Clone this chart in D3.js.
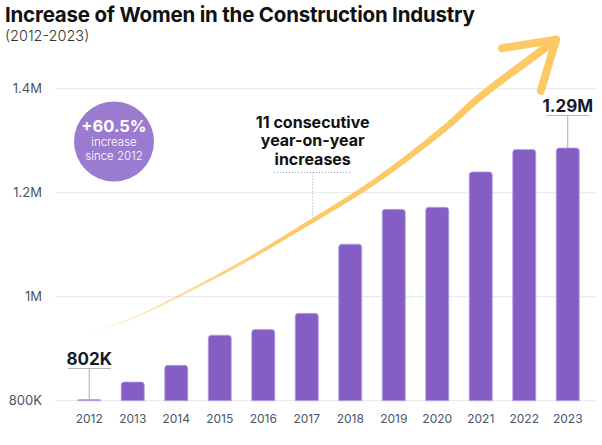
<!DOCTYPE html>
<html>
<head>
<meta charset="utf-8">
<script src="https://cdn.jsdelivr.net/npm/d3@7"></script>
<style>
  html, body { margin: 0; padding: 0; background: #fff; }
  svg { display: block; font-family: Inter, "Noto Sans", sans-serif; }
</style>
</head>
<body>
<svg id="chart" width="602" height="445"></svg>
<script>
// ---- data ----
const years = ["2012","2013","2014","2015","2016","2017","2018","2019","2020","2021","2022","2023"];
const womenK = [802, 836, 868, 926, 937, 968, 1101, 1168, 1172, 1240, 1283, 1286];
const yTicks = [800, 1000, 1200, 1400];
const yTickLabels = ["800K", "1M", "1.2M", "1.4M"];
const titleText = "Increase of Women in the Construction Industry";
const subtitleText = "(2012-2023)";
const badgeLines = ["+60.5%", "increase", "since 2012"];
const noteLines = ["11 consecutive", "year-on-year", "increases"];
const firstLabel = "802K";
const lastLabel = "1.29M";
// trend arrow path in data space: [fractional year offset from 2012, value in K]
const arrowPts = [[0.02,928],[1.17,965],[2.54,1022],[3.69,1074],[4.77,1128],[6.52,1219],[8.13,1321],[8.98,1384],[10.2,1461],[10.73,1494]];
const arrowHead = [[9.49,1478],[10.73,1494],[10.38,1396]];

const svg = d3.select("#chart");

const x = d3.scaleBand().domain(years).range([67.5, 589.5]).paddingInner(0.47).paddingOuter(0.235);
const y = d3.scaleLinear().domain([800, 1400]).range([400.7, 88.7]);
const step = x.step();
const xc = i => x(years[0]) + x.bandwidth() / 2 + i * step;

// title
svg.append("text").attr("x", 5).attr("y", 22).attr("font-size", 20.5).attr("font-weight", 700)
  .attr("fill", "#111").attr("letter-spacing", -0.2).text(titleText);
svg.append("text").attr("x", 5).attr("y", 41).attr("font-size", 14.5).attr("font-weight", 300)
  .attr("fill", "#333").text(subtitleText);

// grid + y labels
const yAxis = d3.axisLeft(y).tickValues(yTicks).tickFormat((d, i) => yTickLabels[i]).tickSize(0).tickPadding(0);
const gy = svg.append("g").attr("transform", "translate(42,0)").call(yAxis);
gy.select(".domain").remove();
gy.selectAll("text").attr("font-size", 13).attr("fill", "#4a5568").attr("font-family", "Inter, sans-serif");
svg.append("g").selectAll("line").data(yTicks).join("line")
  .attr("x1", 55).attr("x2", 597).attr("y1", d => y(d)).attr("y2", d => y(d))
  .attr("stroke", "#e6e7ec").attr("stroke-width", 1);

// x axis labels
const xAxis = d3.axisBottom(x).tickSize(0).tickPadding(0);
const gx = svg.append("g").attr("transform", "translate(0,423)").call(xAxis);
gx.select(".domain").remove();
gx.selectAll("text").attr("font-size", 12).attr("fill", "#4a5568").attr("font-family", "Inter, sans-serif").attr("dy", 0);

// bars with rounded tops
function barPath(x0, w, yTop, yBase, r) {
  const h = yBase - yTop;
  r = Math.min(r, h, w / 2);
  return `M${x0},${yBase}V${yTop + r}Q${x0},${yTop} ${x0 + r},${yTop}H${x0 + w - r}Q${x0 + w},${yTop} ${x0 + w},${yTop + r}V${yBase}Z`;
}
svg.append("g").selectAll("path").data(womenK).join("path")
  .attr("d", (d, i) => barPath(x(years[i]), x.bandwidth(), Math.min(y(d), y(800) - 1.2), y(800), 3))
  .attr("fill", "#845ec2").attr("stroke", "#b9a3e6").attr("stroke-width", 0.8);

// trend arrow (tapering stroke)
const toPx = p => [xc(0) + p[0] * step, y(p[1])];
const arrowPx = arrowPts.map(toPx);
const lineGen = d3.line().curve(d3.curveCatmullRom.alpha(0.5));
const tmp = svg.append("path").attr("d", lineGen(arrowPx)).attr("fill", "none").attr("stroke", "none");
const node = tmp.node();
const L = node.getTotalLength();
const N = 160;
const g = svg.append("g");
for (let k = 0; k < N; k++) {
  const t0 = k / N, t1 = (k + 1) / N;
  const a = node.getPointAtLength(t0 * L), b = node.getPointAtLength(t1 * L);
  const w = 0.6 + 7.4 * Math.pow(t1, 0.9);
  const op = Math.min(1, 0.15 + 1.8 * t1);
  g.append("line").attr("x1", a.x).attr("y1", a.y).attr("x2", b.x).attr("y2", b.y)
    .attr("stroke", "#fdc866").attr("stroke-width", w).attr("stroke-opacity", op)
    .attr("stroke-linecap", "round");
}
tmp.remove();
svg.append("path").attr("d", d3.line()(arrowHead.map(toPx)))
  .attr("fill", "none").attr("stroke", "#fdc866").attr("stroke-width", 8)
  .attr("stroke-linecap", "round").attr("stroke-linejoin", "round");

// badge circle
const badge = svg.append("g").attr("transform", "translate(114,141.5)");
badge.append("circle").attr("r", 40).attr("fill", "#9a7bd0");
badge.append("text").attr("y", -10).attr("text-anchor", "middle").attr("font-size", 16.5).attr("font-weight", 700)
  .attr("fill", "#fff").text(badgeLines[0]);
badge.append("text").attr("y", 4.5).attr("text-anchor", "middle").attr("font-size", 11.5).attr("font-weight", 300)
  .attr("fill", "#fff").text(badgeLines[1]);
badge.append("text").attr("y", 18).attr("text-anchor", "middle").attr("font-size", 11.5).attr("font-weight", 300)
  .attr("fill", "#fff").text(badgeLines[2]);

// first / last value labels
function valueLabel(i, label, yLabel) {
  const cx = xc(i);
  svg.append("text").attr("x", cx).attr("y", yLabel).attr("text-anchor", "middle")
    .attr("font-size", 17).attr("font-weight", 700).attr("fill", "#141b2d").text(label);
  svg.append("line").attr("x1", cx - 21.5).attr("x2", cx + 21.5).attr("y1", yLabel + 3.5).attr("y2", yLabel + 3.5)
    .attr("stroke", "#b5b8c0").attr("stroke-width", 1.2);
  svg.append("line").attr("x1", cx).attr("x2", cx).attr("y1", yLabel + 3.5).attr("y2", Math.min(y(womenK[i]), y(800) - 1))
    .attr("stroke", "#a8abb3").attr("stroke-width", 1);
}
valueLabel(0, firstLabel, 365);
valueLabel(years.length - 1, lastLabel, 112);

// note
const nx = 312.7;
noteLines.forEach((t, i) => {
  svg.append("text").attr("x", nx).attr("y", 127.5 + i * 18.5).attr("text-anchor", "middle")
    .attr("font-size", 16).attr("font-weight", 700).attr("fill", "#111").text(t);
});
svg.append("line").attr("x1", 274).attr("x2", 351).attr("y1", 172.5).attr("y2", 172.5)
  .attr("stroke", "#9aa5ba").attr("stroke-width", 1).attr("stroke-dasharray", "1,2");
svg.append("line").attr("x1", nx).attr("x2", nx).attr("y1", 172.5).attr("y2", 218)
  .attr("stroke", "#9aa5ba").attr("stroke-width", 1).attr("stroke-dasharray", "1,2");
</script>
</body>
</html>
